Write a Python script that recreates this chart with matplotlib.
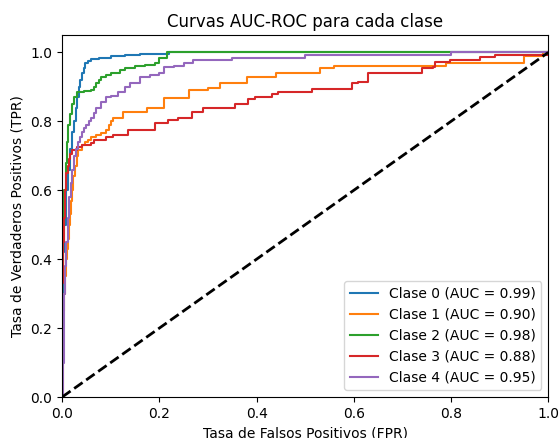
import matplotlib
matplotlib.use("Agg")
import matplotlib.pyplot as plt

labels = ["Clase 0 (AUC = 0.99)", "Clase 1 (AUC = 0.90)", "Clase 2 (AUC = 0.98)",
          "Clase 3 (AUC = 0.88)", "Clase 4 (AUC = 0.95)"]
colors = ["#1f77b4", "#ff7f0e", "#2ca02c", "#d62728", "#9467bd"]

fpr0 = [0, 0, 0.002, 0.004, 0.008, 0.012, 0.016, 0.02, 0.024, 0.028, 0.031, 0.034, 0.037, 0.04, 0.044,
        0.048, 0.053, 0.06, 0.075, 0.1, 0.13, 0.16, 0.22, 1]
tpr0 = [0, 0.3, 0.42, 0.5, 0.6, 0.66, 0.72, 0.77, 0.8, 0.84, 0.87, 0.9, 0.92, 0.94, 0.955,
        0.97, 0.975, 0.98, 0.985, 0.99, 0.993, 0.996, 1.0, 1.0]

fpr1 = [0, 0.002, 0.004, 0.006, 0.008, 0.01, 0.012, 0.014, 0.016, 0.018, 0.02, 0.023, 0.026, 0.03, 0.033,
        0.04, 0.047, 0.053, 0.06, 0.07, 0.08, 0.09, 0.097, 0.1, 0.105, 0.125, 0.175, 0.21, 0.26, 0.3,
        0.325, 0.38, 0.44, 0.53, 0.56, 0.79, 0.94, 0.95, 0.99, 1]
tpr1 = [0, 0.25, 0.3, 0.35, 0.4, 0.43, 0.46, 0.5, 0.53, 0.57, 0.6, 0.64, 0.67, 0.7, 0.716,
        0.73, 0.74, 0.745, 0.755, 0.76, 0.765, 0.774, 0.79, 0.8, 0.81, 0.826, 0.838, 0.867, 0.89, 0.896,
        0.91, 0.928, 0.94, 0.954, 0.962, 0.968, 0.968, 0.991, 1.0, 1.0]

fpr2 = [0, 0, 0.002, 0.004, 0.007, 0.01, 0.013, 0.016, 0.02, 0.024, 0.03, 0.045, 0.06, 0.065, 0.07,
        0.075, 0.08, 0.09, 0.1, 0.12, 0.13, 0.15, 0.17, 0.19, 0.2, 0.215, 1]
tpr2 = [0, 0.35, 0.5, 0.6, 0.68, 0.74, 0.79, 0.82, 0.85, 0.87, 0.885, 0.888, 0.89, 0.9, 0.91,
        0.92, 0.93, 0.935, 0.94, 0.948, 0.955, 0.96, 0.965, 0.97, 0.985, 1.0, 1.0]

fpr3 = [0, 0, 0.002, 0.004, 0.006, 0.008, 0.011, 0.014, 0.017, 0.02, 0.03, 0.04, 0.06, 0.065, 0.09,
        0.105, 0.136, 0.19, 0.218, 0.239, 0.267, 0.29, 0.356, 0.383, 0.397, 0.432, 0.444, 0.514, 0.597,
        0.609, 0.63, 0.741, 0.763, 0.768, 0.798, 0.86, 0.891, 1]
tpr3 = [0, 0.33, 0.45, 0.52, 0.6, 0.65, 0.67, 0.69, 0.705, 0.716, 0.725, 0.73, 0.736, 0.745, 0.754,
        0.76, 0.774, 0.794, 0.803, 0.81, 0.826, 0.84, 0.85, 0.864, 0.87, 0.88, 0.884, 0.893, 0.91,
        0.913, 0.94, 0.954, 0.957, 0.971, 0.977, 0.986, 0.994, 1.0]

fpr4 = [0, 0.002, 0.003, 0.004, 0.006, 0.008, 0.011, 0.015, 0.018, 0.021, 0.025, 0.028, 0.032, 0.036,
        0.04, 0.045, 0.05, 0.055, 0.06, 0.065, 0.07, 0.08, 0.09, 0.1, 0.115, 0.13, 0.14, 0.16, 0.18,
        0.2, 0.21, 0.23, 0.25, 0.27, 0.35, 0.5, 0.8, 1]
tpr4 = [0, 0.1, 0.2, 0.3, 0.38, 0.45, 0.52, 0.58, 0.62, 0.66, 0.7, 0.72, 0.74, 0.755,
        0.77, 0.78, 0.79, 0.8, 0.81, 0.825, 0.84, 0.855, 0.87, 0.875, 0.885, 0.9, 0.91, 0.93, 0.935,
        0.94, 0.957, 0.962, 0.968, 0.977, 0.983, 0.994, 1.0, 1.0]

fprs = [fpr0, fpr1, fpr2, fpr3, fpr4]
tprs = [tpr0, tpr1, tpr2, tpr3, tpr4]

fig = plt.figure(figsize=(5.6, 4.38), dpi=100)
ax = fig.add_axes([0.111, 0.0936, 0.868, 0.826])
for f, t, c, l in zip(fprs, tprs, colors, labels):
    ax.plot(f, t, color=c, lw=1.5, drawstyle="steps-post", label=l)
ax.plot([0, 1], [0, 1], "k--", lw=2)
ax.set_xlim(0, 1.0)
ax.set_ylim(0, 1.05)
ax.set_xlabel("Tasa de Falsos Positivos (FPR)")
ax.set_ylabel("Tasa de Verdaderos Positivos (TPR)")
ax.set_title("Curvas AUC-ROC para cada clase")
ax.legend(loc="lower right")
fig.savefig("out.png", dpi=100)
